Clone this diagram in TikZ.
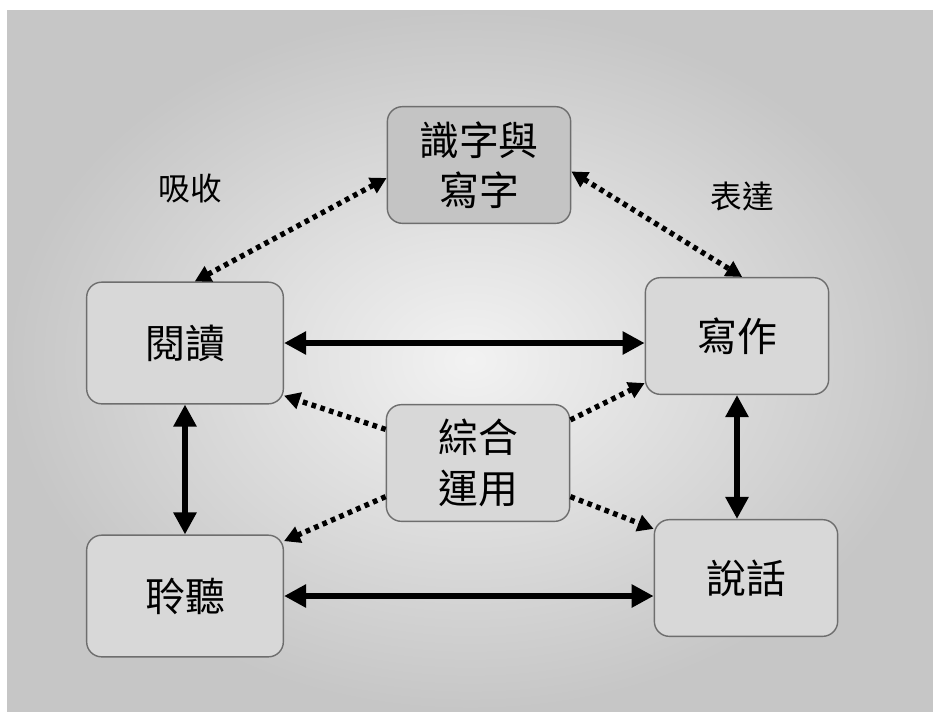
\documentclass[tikz,border=0pt]{standalone}
\usepackage{fontspec}
\newfontfamily\cjk{Noto Sans CJK TC}
\usepackage{tikz}
\usetikzlibrary{arrows.meta}
\definecolor{bgin}{HTML}{F2F2F2}
\definecolor{bgout}{HTML}{C6C6C6}
\definecolor{boxfill}{HTML}{D8D8D8}
\definecolor{topfill}{HTML}{C4C4C4}
\definecolor{boxline}{HTML}{6E6E6E}

\begin{document}
\begin{tikzpicture}[x=0.3mm, y=-0.3mm,
  box/.style={draw=boxline, line width=1.2pt, rounded corners=4.5mm, fill=boxfill,
    minimum width=55mm, minimum height=35mm, align=center,
    font=\cjk\fontsize{34pt}{43pt}\selectfont},
  wide/.style={minimum width=59mm, minimum height=36.5mm},
  side/.style={font=\cjk\fontsize{27pt}{32pt}\selectfont},
  solidarr/.style={{Triangle[length=6.6mm,width=6.6mm]}-{Triangle[length=6.6mm,width=6.6mm]}, line width=2mm},
  dotline/.style={line width=1.6mm, dash pattern=on 1.4mm off 1.35mm},
  dotarr/.style={dotline, -{Triangle[length=4.8mm,width=5mm]}},
  dotboth/.style={dotline, {Triangle[length=4.8mm,width=5mm]}-{Triangle[length=4.8mm,width=5mm]}}]
  \useasboundingbox (0,0) rectangle (933,711);
  \fill[white] (0,0) rectangle (933,711);
  \shade[inner color=bgin, outer color=bgout] (7,10) rectangle (933,711);
  % boxes
  \node[box, fill=topfill] (shizi) at (479,165) {識字與\\寫字};
  \node[box, wide] (yuedu) at (185,343) {閱讀};
  \node[box] (xiezuo) at (737,336) {寫作};
  \node[box] (zonghe) at (478,463) {綜合\\運用};
  \node[box, wide] (liting) at (185,596) {聆聽};
  \node[box] (shuohua) at (746,578) {說話};
  \node[side] (xishou) at (190,188) {吸收};
  \node[side] (biaoda) at (742,196) {表達};
  % solid arrows
  \draw[solidarr] (yuedu.east) -- (yuedu.east -| xiezuo.west);
  \draw[solidarr] (yuedu.south) -- (liting.north);
  \draw[solidarr] (xiezuo.south) -- (xiezuo.south |- shuohua.north);
  \draw[solidarr] (liting.east) -- (liting.east -| shuohua.west);
  % dotted arrows
  \draw[dotboth] (shizi.188) -- (yuedu.81);
  \draw[dotboth] (shizi.356) -- (xiezuo.85);
  \draw[dotarr] (zonghe.160) -- (yuedu.332);
  \draw[dotarr] (zonghe.25) -- (xiezuo.207);
  \draw[dotarr] (zonghe.200) -- (liting.29);
  \draw[dotarr] (zonghe.340) -- (shuohua.152);
\end{tikzpicture}
\end{document}
